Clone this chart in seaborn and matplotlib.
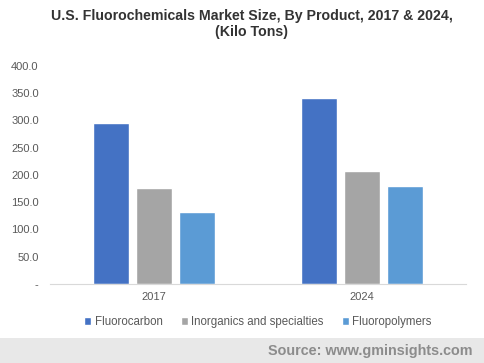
import matplotlib
matplotlib.use("Agg")
import matplotlib.pyplot as plt
import seaborn as sns
import pandas as pd

years = ["2017", "2024"]
products = ["Fluorocarbon", "Inorganics and specialties", "Fluoropolymers"]
fluorocarbon = [295, 341]
inorganics = [176, 207]
fluoropolymers = [132, 180]
colors = ["#4472c4", "#a5a5a5", "#5b9bd5"]
yticks = [0, 50, 100, 150, 200, 250, 300, 350, 400]

df = pd.DataFrame({
    "year": years * 3,
    "product": [products[0]] * 2 + [products[1]] * 2 + [products[2]] * 2,
    "value": fluorocarbon + inorganics + fluoropolymers,
})

sns.set_style("white")
plt.rcParams["font.family"] = ["Liberation Sans", "DejaVu Sans"]

fig = plt.figure(figsize=(4.84, 3.63), dpi=100)
ax = fig.add_axes([0.103, 0.218, 0.86, 0.601])

sns.barplot(data=df, x="year", y="value", hue="product", palette=colors,
            width=0.615, gap=0.155, saturation=1, ax=ax, legend=True)

ax.set_ylim(0, 400)
ax.set_yticks(yticks)
ax.set_yticklabels(["-" if t == 0 else f"{t:.1f}" for t in yticks])
ax.set_xlabel("")
ax.set_ylabel("")
for s in ["top", "right", "left"]:
    ax.spines[s].set_visible(False)
ax.spines["bottom"].set_color("#d9d9d9")
ax.tick_params(axis="both", length=0, labelsize=8, labelcolor="#595959", pad=6)
ax.tick_params(axis="y", pad=8)

ax.legend(loc="center", bbox_to_anchor=(0.5, -0.175), ncol=3, frameon=False,
          fontsize=8.3, labelcolor="#595959", handlelength=0.6, handleheight=0.6,
          handletextpad=0.3, columnspacing=1.6)

fig.text(0.52, 0.975, "U.S. Fluorochemicals Market Size, By Product, 2017 & 2024,\n(Kilo Tons)",
         ha="center", va="top", fontsize=10.2, fontweight="bold", color="#333333",
         linespacing=1.15)

fig.patches.append(matplotlib.patches.Rectangle((0, 0), 1, 25 / 363, transform=fig.transFigure,
                                                facecolor="#e8e8e8", edgecolor="none", zorder=0))
fig.text(0.977, 12 / 363, "Source: www.gminsights.com", ha="right", va="center",
         fontsize=10.4, fontweight="bold", color="#8c8c8c")

fig.savefig("out.png", dpi=100)
